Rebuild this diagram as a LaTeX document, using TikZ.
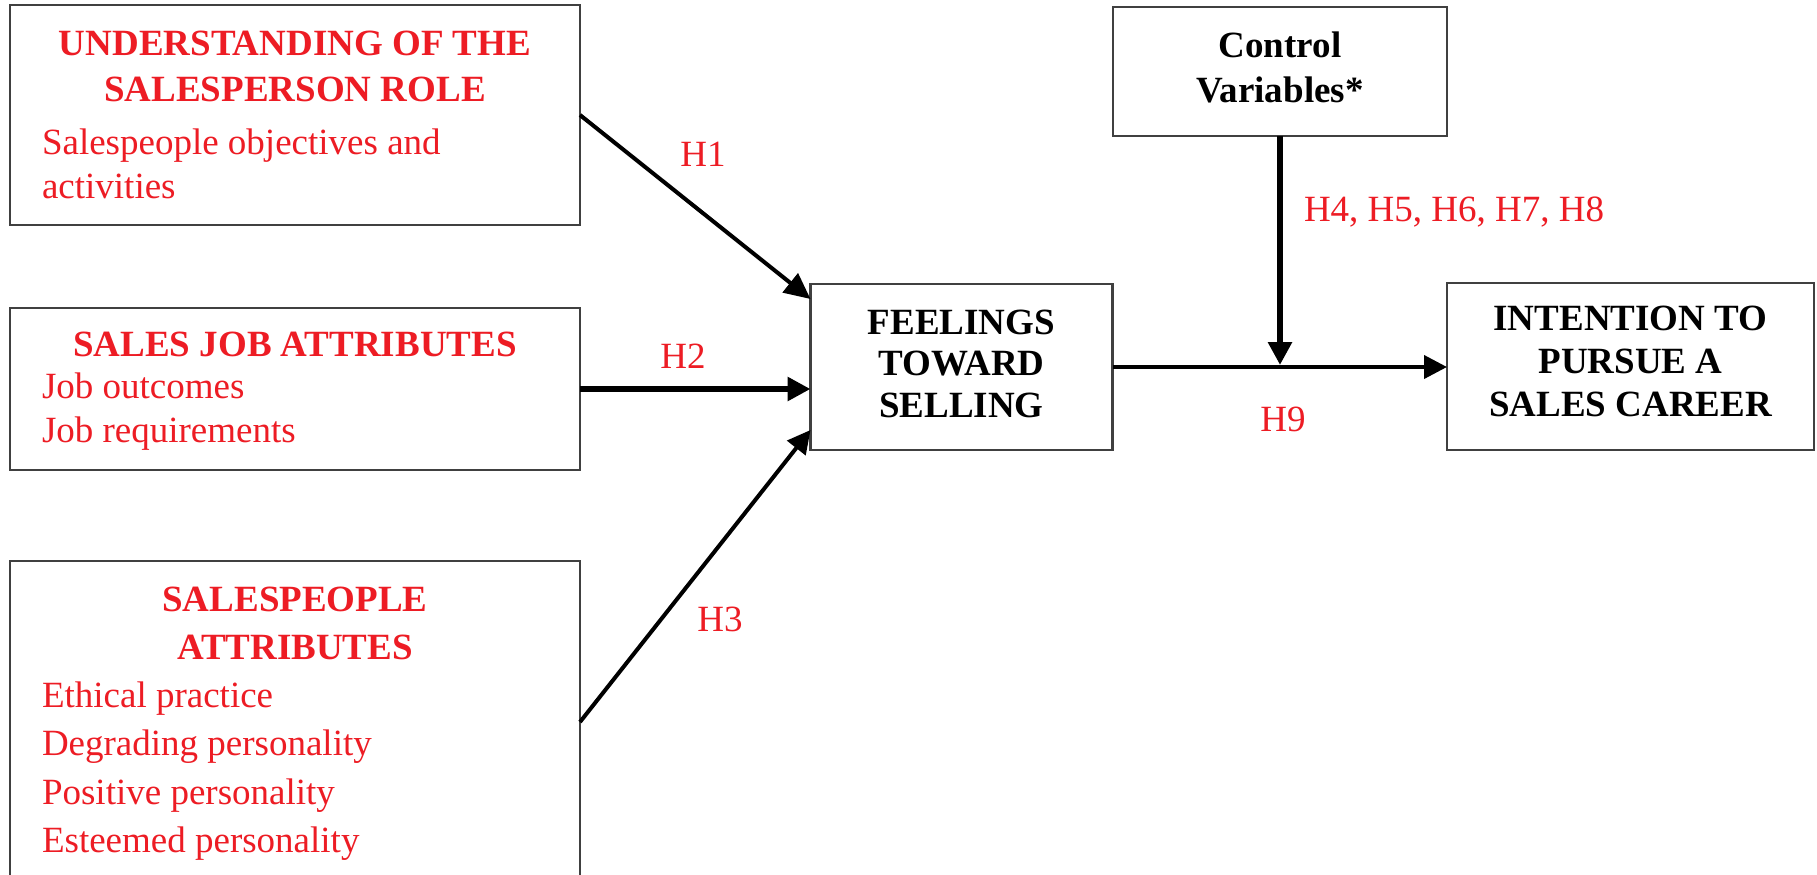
\documentclass[tikz,border=0pt]{standalone}
\usepackage{fontspec}
\setmainfont{Liberation Serif}
\usetikzlibrary{arrows.meta,calc}
\definecolor{hred}{RGB}{237,28,36}
\begin{document}
\begin{tikzpicture}[x=0.5pt,y=-0.5pt,
  box/.style={draw=black!75,line width=1.1pt,inner sep=0pt,outer sep=0pt},
  txt/.style={inner sep=0pt,outer sep=0pt,font=\fontsize{18.5}{22}\selectfont},
  head/.style={txt,anchor=base,font=\fontsize{18.5}{22}\selectfont\bfseries},
  redh/.style={head,text=hred},
  blk/.style={head,text=black},
  body/.style={txt,anchor=base west,text=hred},
  lab/.style={txt,anchor=base,text=hred},
  arr/.style={line width=2pt,-{Triangle[length=11.5pt,width=11.5pt]}}]
\clip (0,0) rectangle (1817,874);
\fill[white] (0,0) rectangle (1817,874);

% boxes
\node[box,minimum width=285pt,minimum height=110pt] (b1) at (295,115) {};
\node[box,minimum width=285pt,minimum height=81pt] (b2) at (295,389) {};
\node[box,minimum width=285pt,minimum height=161pt] (b3) at (295,722) {};
\node[box,minimum width=151pt,minimum height=83pt] (feel) at (961.5,367) {};
\node[box,minimum width=167pt,minimum height=64.5pt] (ctrl) at (1280,71.5) {};
\node[box,minimum width=183.5pt,minimum height=83.5pt] (intent) at (1630.5,366.5) {};

% box 1 text
\node[redh] (b1h1) at (295,55) {UNDERSTANDING OF THE};
\node[redh] (b1h2) at (295,101.5) {SALESPERSON ROLE};
\node[body] (b1t1) at (42,154) {Salespeople objectives and};
\node[body] (b1t2) at (42,198) {activities};

% box 2 text
\node[redh] (b2h1) at (295,356.5) {SALES JOB ATTRIBUTES};
\node[body] (b2t1) at (42,398.5) {Job outcomes};
\node[body] (b2t2) at (42,442) {Job requirements};

% box 3 text
\node[redh] (b3h1) at (295,611) {SALESPEOPLE};
\node[redh] (b3h2) at (295,659) {ATTRIBUTES};
\node[body] (b3t1) at (42,707) {Ethical practice};
\node[body] (b3t2) at (42,755) {Degrading personality};
\node[body] (b3t3) at (42,804) {Positive personality};
\node[body] (b3t4) at (42,852) {Esteemed personality};

% feelings
\node[blk] (f1) at (961.5,334.5) {FEELINGS};
\node[blk] (f2) at (961.5,375.5) {TOWARD};
\node[blk] (f3) at (961.5,417.5) {SELLING};

% control
\node[blk] (c1) at (1280,57) {Control};
\node[blk] (c2) at (1280,102) {Variables*};

% intention
\node[blk] (i1) at (1630.5,330) {INTENTION TO};
\node[blk] (i2) at (1630.5,373.5) {PURSUE A};
\node[blk] (i3) at (1630.5,416) {SALES CAREER};

% connectors
\draw[arr,-{Triangle[length=13pt,width=12pt]}] (b1.east) -- ($(feel.north west)+(0,15)$);
\draw[arr,line width=3pt] (b2.east) -- (b2.east -| feel.west);
\draw[arr] (b3.east) -- ($(feel.south west)+(0,-20)$);
\draw[arr] (feel.east) -- (feel.east -| intent.west);
\draw[arr,line width=3pt,shorten >=1pt] (ctrl.south) -- (ctrl.south |- feel.east);

% labels
\node[lab] (lh1) at (703,166) {H1};
\node[lab] (lh2) at (683,368) {H2};
\node[lab] (lh3) at (720,631) {H3};
\node[lab,anchor=base west] (lh4) at (1304,221) {H4, H5, H6, H7, H8};
\node[lab] (lh9) at (1283,431) {H9};
\end{tikzpicture}
\end{document}
